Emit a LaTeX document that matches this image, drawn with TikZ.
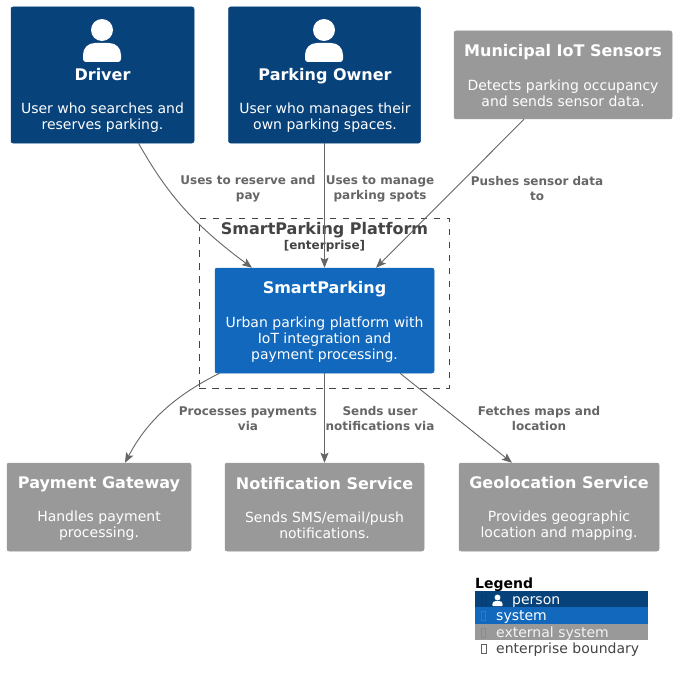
\documentclass[tikz,border=0pt]{standalone}
\usepackage{fontspec}
\setmainfont{DejaVu Sans}
\usetikzlibrary{calc,arrows.meta}
\definecolor{personc}{HTML}{08427B}
\definecolor{systemc}{HTML}{1168BD}
\definecolor{extc}{HTML}{999999}
\definecolor{edgec}{HTML}{666666}
\definecolor{labelc}{HTML}{666666}
\definecolor{boundc}{HTML}{444444}
\newcommand{\ttl}[1]{{\fontsize{16}{19}\selectfont\bfseries #1}}
\newcommand{\dsc}{\fontsize{14}{16}\selectfont}
\newcommand{\personicon}[3]{%
  \begin{scope}[shift={(#1,#2)}]
  \fill[#3] (0,0) circle (11);
  \fill[#3] (-19,29) -- (-19,25) .. controls (-19,18) and (-14,13) .. (-7,13) -- (7,13)
     .. controls (14,13) and (19,18) .. (19,25) -- (19,29)
     .. controls (19,31) and (17.5,32) .. (16,32) -- (-16,32)
     .. controls (-17.5,32) and (-19,31) .. (-19,29) -- cycle;
  \end{scope}}
\tikzset{
  box/.style={rectangle,rounded corners=2pt,draw=#1,fill=#1,line width=0.5pt,text=white,align=center,inner sep=0pt,font=\dsc},
  conn/.style={edgec,line width=0.9pt,-{Stealth[length=10pt,width=8pt,inset=2pt]}},
  elabel/.style={text=labelc,align=center,inner sep=0pt,font=\fontsize{12}{15}\selectfont\bfseries},
  legrow/.style={rectangle,fill=#1,text=white,anchor=west,minimum width=173pt,minimum height=16.5pt,inner sep=0pt,align=left,font=\fontsize{14}{16}\selectfont},
  boxtext/.style={text=white,align=center,inner sep=0pt,anchor=center,font=\dsc},
}
\begin{document}
\begin{tikzpicture}[x=1pt,y=-1pt]
\useasboundingbox (0,0) rectangle (677,682);
\fill[white] (0,0) rectangle (677,682);
% boundary
\node[draw=boundc,dash pattern=on 6.5pt off 6.5pt,line width=0.9pt,minimum width=250pt,minimum height=170pt,inner sep=0pt] (bound) at (324,303) {};
\node[text=boundc,align=center,inner sep=0pt,anchor=north] (boundtitle) at (324.5,222)
  {{\fontsize{16}{18}\selectfont\bfseries SmartParking Platform}\\[1.5pt]{\fontsize{12}{13}\selectfont\bfseries [enterprise]}};
% boxes
\node[box=personc,minimum width=183pt,minimum height=136pt] (driver) at (102.5,75) {};
\node[box=personc,minimum width=192pt,minimum height=136pt] (owner) at (324.5,75) {};
\node[box=extc,minimum width=218pt,minimum height=88pt] (iot) at (563,75) {};
\node[box=systemc,minimum width=219pt,minimum height=105pt] (sp) at (324.5,320.5) {};
\node[box=extc,minimum width=184pt,minimum height=88pt] (pay) at (99,507) {};
\node[box=extc,minimum width=199pt,minimum height=88pt] (notif) at (324.5,507) {};
\node[box=extc,minimum width=200pt,minimum height=88pt] (geo) at (559,507) {};
% box texts
\node[boxtext] (iott) at ($(iot)+(0,1)$)
  {\ttl{Municipal IoT Sensors}\\[18pt]Detects parking occupancy\\and sends sensor data.};
\node[boxtext] (spt) at ($(sp)+(0,1)$)
  {\ttl{SmartParking}\\[18pt]Urban parking platform with\\IoT integration and\\payment processing.};
\node[boxtext] (payt) at ($(pay)+(0,1.5)$)
  {\ttl{Payment Gateway}\\[17pt]Handles payment\\processing.};
\node[boxtext] (notift) at ($(notif)+(0,1.5)$)
  {\ttl{Notification Service}\\[17pt]Sends SMS/email/push\\notifications.};
\node[boxtext] (geot) at ($(geo)+(0,1.5)$)
  {\ttl{Geolocation Service}\\[17pt]Provides geographic\\location and mapping.};
% person contents
\personicon{102}{30}{white}
\personicon{324}{30}{white}
\node[boxtext,anchor=north] (drivertext) at (102.5,68.5)
  {\ttl{Driver}\\[16.5pt]User who searches and\\reserves parking.};
\node[boxtext,anchor=north] (ownertext) at (325,68.5)
  {\ttl{Parking Owner}\\[16.5pt]User who manages their\\own parking spaces.};
% connectors
\draw[conn] ($(driver.south)+(36,0)$) .. controls (165,190) and (190,222) .. ($(sp.north)+(-72.5,0)$);
\draw[conn] (owner.south) -- (sp.north);
\draw[conn] ($(iot.south)+(-39,0)$) -- ($(sp.north)+(51.5,0)$);
\draw[conn] ($(sp.south)+(-105,0)$) .. controls (170,398) and (145,425) .. ($(pay.north)+(26,0)$);
\draw[conn] (sp.south) -- (notif.north);
\draw[conn] ($(sp.south)+(75.5,0)$) -- ($(geo.north)+(-47,0)$);
% connector labels
\node[elabel] (l1) at (248,189) {Uses to reserve and\\pay};
\node[elabel] (l2) at (380,189) {Uses to manage\\parking spots};
\node[elabel] (l3) at (537,189) {Pushes sensor data\\to};
\node[elabel] (l4) at (248,419) {Processes payments\\via};
\node[elabel] (l5) at (380,419) {Sends user\\notifications via};
\node[elabel] (l6) at (539,419) {Fetches maps and\\location};
% legend
\node[anchor=base west,inner sep=0pt,font=\fontsize{14}{16}\selectfont\bfseries] (legtitle) at (475,588) {Legend};
\node[legrow=personc] (lg1) at (475,599) {};
\node[legrow=systemc] (lg2) at (475,615.5) {};
\node[legrow=extc] (lg3) at (475,632) {};
\node[anchor=base west,inner sep=0pt,text=white,font=\fontsize{14}{16}\selectfont] (lt1) at (512,604) {person};
\node[anchor=base west,inner sep=0pt,text=white,font=\fontsize{14}{16}\selectfont] (lt2) at (496,620.5) {system};
\node[anchor=base west,inner sep=0pt,text=white!88!extc,font=\fontsize{14}{16}\selectfont] (lt3) at (496,637) {external system};
\node[anchor=base west,inner sep=0pt,text=boundc,font=\fontsize{14}{16}\selectfont] (lt4) at (496,653) {enterprise boundary};
\begin{scope}[shift={(497.5,597.5)},scale=0.27]
\personicon{0}{0}{white}
\end{scope}
\draw[personc!90!black,line width=.4pt] (481,595.5) rectangle (485,604.5);
\draw[systemc!88!white,line width=.4pt] (481,611) rectangle (485,620);
\draw[extc!90!black,line width=.4pt] (481,628) rectangle (485,637);
\draw[boundc!85!white,line width=.5pt] (481,644.5) rectangle (486,653.5);
\end{tikzpicture}
\end{document}
